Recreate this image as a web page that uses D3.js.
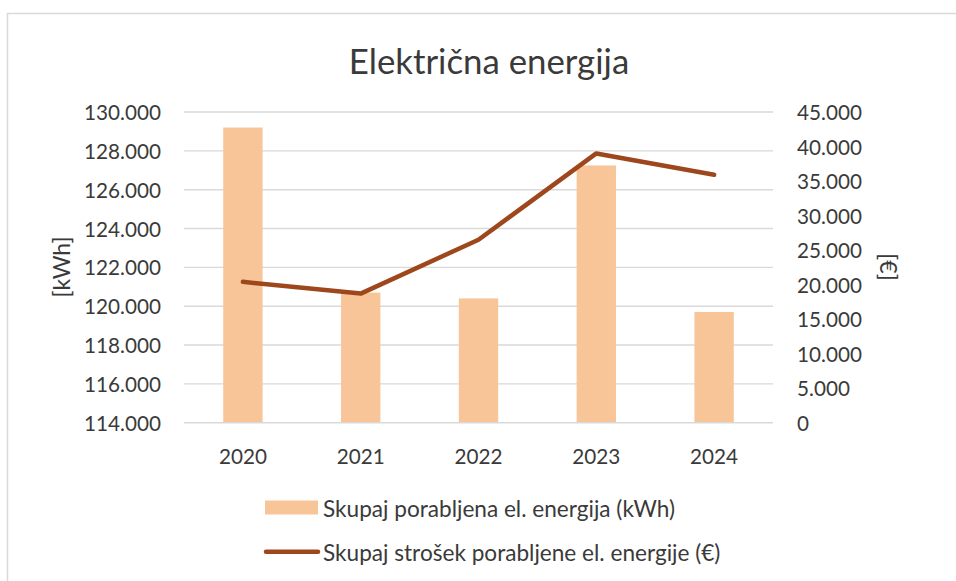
<!DOCTYPE html>
<html>
<head>
<meta charset="utf-8">
<script src="https://cdn.jsdelivr.net/npm/d3@7"></script>
<style>
  html, body { margin: 0; padding: 0; background: #fff; }
  svg { display: block; }
  text { font-family: Lato, "Open Sans", sans-serif; fill: #3a3a3a; }
</style>
</head>
<body>
<svg id="chart" width="956" height="581"></svg>
<script>
// Data
const years = ['2020', '2021', '2022', '2023', '2024'];
const energyKwh = [129200, 120700, 120400, 127250, 119700];
const costEur = [20400, 18700, 26500, 39000, 35900];
const leftTicks = d3.range(114000, 130001, 2000);
const rightTicks = d3.range(0, 45001, 5000);

const barName = 'Skupaj porabljena el. energija (kWh)';
const lineName = 'Skupaj strošek porabljene el. energije (€)';

const barColor = '#F8C598';
const lineColor = '#9E471C';
const gridColor = '#d9d9d9';

const fmt = d3.formatLocale({ decimal: ',', thousands: '.', grouping: [3], currency: ['', '€'] }).format(',');

const svg = d3.select('#chart');

// chart frame (cut off at the right and bottom like the screenshot)
svg.append('rect')
  .attr('x', 7.5).attr('y', 13.5)
  .attr('width', 1000).attr('height', 1000)
  .attr('fill', 'none')
  .attr('stroke', gridColor)
  .attr('stroke-width', 1.5);

const plot = { left: 184, right: 773, top: 112, bottom: 422.7 };

const x = d3.scaleBand()
  .domain(years)
  .range([plot.left, plot.right])
  .paddingInner(0.666)
  .paddingOuter(0.333);

const yLeft = d3.scaleLinear().domain([114000, 130000]).range([plot.bottom, plot.top]);
const yRight = d3.scaleLinear().domain([0, 45000]).range([plot.bottom, plot.top]);

// gridlines
svg.append('g')
  .selectAll('line')
  .data(leftTicks)
  .join('line')
  .attr('x1', plot.left).attr('x2', plot.right)
  .attr('y1', d => yLeft(d)).attr('y2', d => yLeft(d))
  .attr('stroke', gridColor)
  .attr('stroke-width', 1.4);

// bars
svg.append('g')
  .selectAll('rect')
  .data(years)
  .join('rect')
  .attr('x', d => x(d))
  .attr('width', x.bandwidth())
  .attr('y', (d, i) => yLeft(energyKwh[i]))
  .attr('height', (d, i) => plot.bottom - yLeft(energyKwh[i]) - 0.7)
  .attr('fill', barColor);

// cost line
const line = d3.line()
  .x((d, i) => x(years[i]) + x.bandwidth() / 2)
  .y(d => yRight(d));

svg.append('path')
  .datum(costEur)
  .attr('d', line)
  .attr('fill', 'none')
  .attr('stroke', lineColor)
  .attr('stroke-width', 4.5)
  .attr('stroke-linecap', 'round')
  .attr('stroke-linejoin', 'round');

// left axis labels
svg.append('g')
  .selectAll('text')
  .data(leftTicks)
  .join('text')
  .attr('x', 161)
  .attr('y', d => yLeft(d))
  .attr('text-anchor', 'end')
  .attr('dominant-baseline', 'central')
  .style('font-size', '20.7px')
  .text(d => fmt(d));

// right axis labels
svg.append('g')
  .selectAll('text')
  .data(rightTicks)
  .join('text')
  .attr('x', 797)
  .attr('y', d => yRight(d))
  .attr('dominant-baseline', 'central')
  .style('font-size', '20.7px')
  .text(d => fmt(d));

// category labels
svg.append('g')
  .selectAll('text')
  .data(years)
  .join('text')
  .attr('x', d => x(d) + x.bandwidth() / 2)
  .attr('y', 456)
  .attr('text-anchor', 'middle')
  .attr('dominant-baseline', 'central')
  .style('font-size', '20.7px')
  .text(d => d);

// axis titles
svg.append('text')
  .attr('transform', 'translate(61,267) rotate(-90)')
  .attr('text-anchor', 'middle')
  .attr('dominant-baseline', 'central')
  .style('font-size', '23px')
  .text('[kWh]');

svg.append('text')
  .attr('transform', 'translate(889,267) rotate(90)')
  .attr('text-anchor', 'middle')
  .attr('dominant-baseline', 'central')
  .style('font-size', '23px')
  .text('[€]');

// title
svg.append('text')
  .attr('x', 489)
  .attr('y', 60)
  .attr('text-anchor', 'middle')
  .attr('dominant-baseline', 'central')
  .style('font-size', '34.8px')
  .text('Električna energija');

// legend
const legend = svg.append('g');
legend.append('rect')
  .attr('x', 265).attr('y', 500.5)
  .attr('width', 53).attr('height', 14)
  .attr('fill', barColor);
legend.append('text')
  .attr('x', 323).attr('y', 508)
  .attr('dominant-baseline', 'central')
  .style('font-size', '22.6px')
  .text(barName);
legend.append('line')
  .attr('x1', 266).attr('x2', 318)
  .attr('y1', 551.7).attr('y2', 551.7)
  .attr('stroke', lineColor)
  .attr('stroke-width', 4.5)
  .attr('stroke-linecap', 'round');
legend.append('text')
  .attr('x', 323).attr('y', 552)
  .attr('dominant-baseline', 'central')
  .style('font-size', '22.6px')
  .text(lineName);
</script>
</body>
</html>
